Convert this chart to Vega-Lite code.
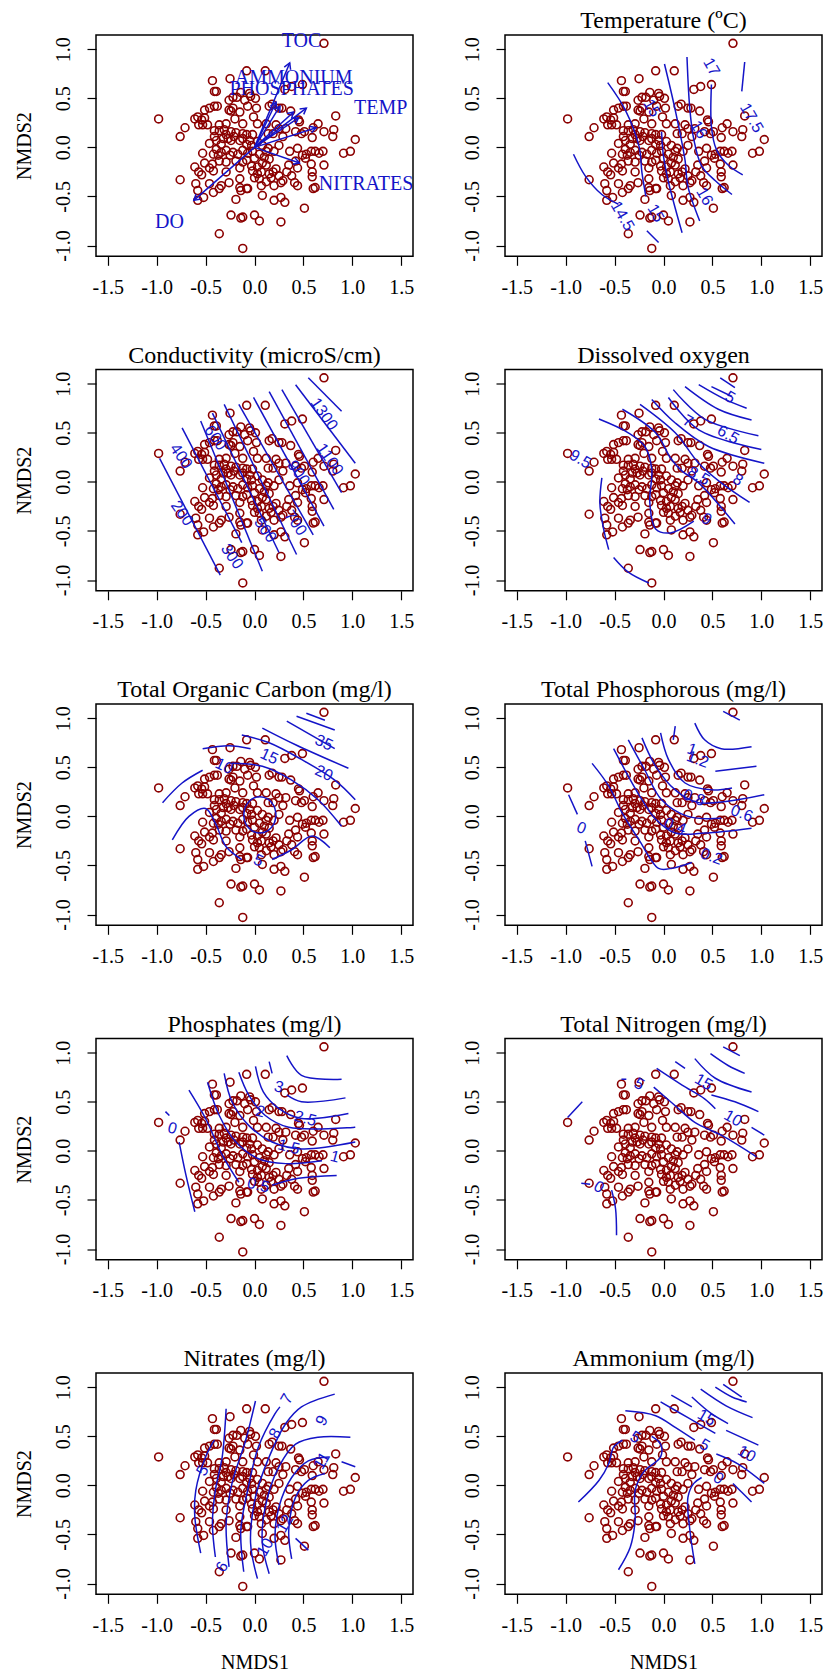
{
"$schema":"https://vega.github.io/schema/vega-lite/v6.json",
"background":"white",
"padding":{"left":13,"top":8,"right":5,"bottom":2},
"config":{
 "font":"Liberation Serif",
 "view":{"stroke":"black","strokeWidth":1.5},
 "axis":{"grid":false,"domain":false,"tickColor":"black","tickSize":9,"tickWidth":1.2,"labelFontSize":20,"labelColor":"black","labelFont":"Liberation Serif","titleFont":"Liberation Serif","titleFontSize":20,"titleFontWeight":"normal","titleColor":"black","labelOverlap":false,"labelFlush":false},
 "axisX":{"labelPadding":12,"titlePadding":17},
 "axisY":{"labelAngle":-90,"labelAlign":"center","labelBaseline":"bottom","labelPadding":14,"titlePadding":19},
 "title":{"fontSize":24,"font":"Liberation Serif","fontWeight":"normal","color":"black","baseline":"alphabetic","offset":2,"frame":"group","anchor":"middle"}
},
"datasets":{
"pts":[{"x":0.71,"y":1.06},{"x":-0.08,"y":0.78},{"x":0.11,"y":0.78},{"x":-0.43,"y":0.68},{"x":-0.25,"y":0.70},{"x":-0.41,"y":0.57},{"x":-0.39,"y":0.57},{"x":0.31,"y":0.59},{"x":0.38,"y":0.62},{"x":0.49,"y":0.64},
{"x":-0.14,"y":0.56},{"x":-0.05,"y":0.55},{"x":-0.22,"y":0.51},{"x":-0.26,"y":0.48},{"x":-0.18,"y":0.51},{"x":0.01,"y":0.50},{"x":-0.10,"y":0.48},{"x":-0.04,"y":0.52},{"x":-0.51,"y":0.38},{"x":-0.46,"y":0.40},
{"x":-0.41,"y":0.42},{"x":-0.38,"y":0.42},{"x":-0.26,"y":0.38},{"x":-0.24,"y":0.37},{"x":-0.15,"y":0.36},{"x":-0.07,"y":0.42},{"x":0.15,"y":0.42},{"x":0.18,"y":0.44},{"x":0.25,"y":0.40},{"x":0.28,"y":0.40},
{"x":0.37,"y":0.37},{"x":0.45,"y":0.28},{"x":0.46,"y":0.26},{"x":0.48,"y":0.14},{"x":0.83,"y":0.32},{"x":0.81,"y":0.18},{"x":0.80,"y":0.11},{"x":1.03,"y":0.08},{"x":0.91,"y":-0.06},{"x":0.98,"y":-0.04},
{"x":0.65,"y":0.24},{"x":0.71,"y":0.16},{"x":0.60,"y":0.20},{"x":0.59,"y":0.10},{"x":0.51,"y":0.16},{"x":-0.01,"y":0.31},{"x":0.03,"y":0.24},{"x":0.12,"y":0.24},{"x":0.22,"y":0.23},{"x":0.25,"y":0.19},
{"x":0.29,"y":0.11},{"x":0.25,"y":0.02},{"x":-0.71,"y":0.20},{"x":-0.76,"y":0.11},{"x":-0.98,"y":0.29},{"x":-0.61,"y":0.29},{"x":-0.58,"y":0.31},{"x":-0.54,"y":0.28},{"x":-0.51,"y":0.30},{"x":-0.57,"y":0.23},
{"x":-0.53,"y":0.23},{"x":-0.48,"y":0.23},{"x":-0.41,"y":0.17},{"x":-0.36,"y":0.17},{"x":-0.31,"y":0.18},{"x":-0.24,"y":0.16},{"x":-0.19,"y":0.15},{"x":-0.12,"y":0.14},{"x":-0.08,"y":0.13},{"x":-0.02,"y":0.13},
{"x":-0.41,"y":0.11},{"x":-0.46,"y":0.04},{"x":-0.39,"y":0.07},{"x":-0.34,"y":0.03},{"x":-0.27,"y":0.09},{"x":-0.21,"y":0.11},{"x":-0.15,"y":0.07},{"x":-0.08,"y":0.03},{"x":-0.03,"y":0.02},{"x":0.03,"y":0.06},
{"x":0.08,"y":0.02},{"x":0.14,"y":-0.01},{"x":-0.39,"y":-0.02},{"x":-0.34,"y":-0.05},{"x":-0.29,"y":-0.03},{"x":-0.22,"y":-0.05},{"x":-0.17,"y":-0.07},{"x":-0.12,"y":-0.03},{"x":-0.07,"y":-0.06},{"x":-0.02,"y":-0.04},
{"x":0.05,"y":-0.07},{"x":0.10,"y":-0.10},{"x":0.15,"y":-0.12},{"x":-0.42,"y":-0.07},{"x":-0.36,"y":-0.14},{"x":-0.29,"y":-0.15},{"x":-0.19,"y":-0.14},{"x":-0.12,"y":-0.15},{"x":-0.03,"y":-0.19},{"x":0.03,"y":-0.20},
{"x":0.08,"y":-0.16},{"x":-0.53,"y":-0.06},{"x":-0.61,"y":-0.20},{"x":-0.51,"y":-0.16},{"x":-0.43,"y":-0.17},{"x":-0.57,"y":-0.25},{"x":-0.42,"y":-0.24},{"x":-0.60,"y":-0.37},{"x":-0.58,"y":-0.44},{"x":-0.58,"y":-0.54},
{"x":-0.52,"y":-0.51},{"x":-0.46,"y":-0.37},{"x":-0.42,"y":-0.46},{"x":-0.36,"y":-0.42},{"x":-0.34,"y":-0.39},{"x":-0.26,"y":-0.36},{"x":-0.19,"y":-0.53},{"x":-0.15,"y":-0.41},{"x":-0.14,"y":-0.44},{"x":-0.08,"y":-0.42},
{"x":-0.07,"y":-0.42},{"x":-0.02,"y":-0.24},{"x":0.03,"y":-0.27},{"x":0.07,"y":-0.25},{"x":0.00,"y":-0.31},{"x":0.05,"y":-0.32},{"x":0.07,"y":-0.39},{"x":0.08,"y":-0.49},{"x":0.15,"y":-0.27},{"x":0.19,"y":-0.25},
{"x":0.17,"y":-0.31},{"x":0.22,"y":-0.22},{"x":0.25,"y":-0.29},{"x":0.29,"y":-0.34},{"x":0.27,"y":-0.36},{"x":0.20,"y":-0.39},{"x":0.20,"y":-0.54},{"x":0.27,"y":-0.51},{"x":0.31,"y":-0.56},{"x":0.27,"y":-0.76},
{"x":0.33,"y":-0.25},{"x":0.38,"y":-0.29},{"x":0.41,"y":-0.36},{"x":0.44,"y":-0.39},{"x":0.35,"y":-0.18},{"x":0.42,"y":-0.14},{"x":0.44,"y":-0.21},{"x":0.49,"y":-0.08},{"x":0.52,"y":-0.11},{"x":0.53,"y":-0.07},
{"x":0.58,"y":-0.04},{"x":0.62,"y":-0.04},{"x":0.66,"y":-0.06},{"x":0.70,"y":-0.04},{"x":0.58,"y":-0.17},{"x":0.59,"y":-0.25},{"x":0.59,"y":-0.30},{"x":0.60,"y":-0.42},{"x":0.62,"y":-0.41},{"x":0.71,"y":-0.18},
{"x":0.51,"y":-0.62},{"x":-0.24,"y":-0.69},{"x":-0.14,"y":-0.72},{"x":-0.12,"y":-0.71},{"x":0.00,"y":-0.69},{"x":0.05,"y":-0.75},{"x":-0.36,"y":-0.88},{"x":-0.12,"y":-1.03},{"x":-0.76,"y":-0.33},{"x":-0.29,"y":0.13},
{"x":-0.24,"y":0.07},{"x":-0.12,"y":0.09},{"x":-0.05,"y":0.07},{"x":-0.32,"y":0.09},{"x":0.00,"y":-0.11},{"x":-0.08,"y":-0.13},{"x":0.12,"y":-0.04},{"x":-0.25,"y":-0.08},{"x":-0.37,"y":-0.08},{"x":-0.15,"y":-0.21},
{"x":-0.15,"y":-0.32},{"x":0.12,"y":-0.18},{"x":0.20,"y":-0.04},{"x":0.36,"y":-0.04},{"x":0.44,"y":-0.01},{"x":0.42,"y":0.16},{"x":0.14,"y":0.14},{"x":0.19,"y":0.14},{"x":0.32,"y":0.19},{"x":-0.22,"y":0.40},
{"x":-0.20,"y":0.29},{"x":-0.12,"y":0.24},{"x":-0.29,"y":0.24},{"x":-0.36,"y":0.23},{"x":0.02,"y":0.40},{"x":-0.46,"y":-0.21},{"x":-0.29,"y":-0.25},{"x":-0.54,"y":-0.28},{"x":0.12,"y":-0.35}],
"ln":[
{"p":1,"g":"1a","o":0,"x":0,"y":0},{"p":1,"g":"1a","o":1,"x":-0.62,"y":-0.54},
{"p":1,"g":"1A","o":0,"x":-0.597,"y":-0.474},{"p":1,"g":"1A","o":1,"x":-0.62,"y":-0.54},{"p":1,"g":"1A","o":2,"x":-0.551,"y":-0.527},
{"p":1,"g":"1b","o":0,"x":0,"y":0},{"p":1,"g":"1b","o":1,"x":0.46,"y":-0.16},
{"p":1,"g":"1B","o":0,"x":0.391,"y":-0.173},{"p":1,"g":"1B","o":1,"x":0.46,"y":-0.16},{"p":1,"g":"1B","o":2,"x":0.414,"y":-0.107},
{"p":1,"g":"1c","o":0,"x":0,"y":0},{"p":1,"g":"1c","o":1,"x":0.63,"y":0.20},
{"p":1,"g":"1C","o":0,"x":0.583,"y":0.148},{"p":1,"g":"1C","o":1,"x":0.63,"y":0.20},{"p":1,"g":"1C","o":2,"x":0.562,"y":0.215},
{"p":1,"g":"1d","o":0,"x":0,"y":0},{"p":1,"g":"1d","o":1,"x":0.36,"y":0.86},
{"p":1,"g":"1D","o":0,"x":0.369,"y":0.791},{"p":1,"g":"1D","o":1,"x":0.36,"y":0.86},{"p":1,"g":"1D","o":2,"x":0.304,"y":0.818},
{"p":1,"g":"1e","o":0,"x":0,"y":0},{"p":1,"g":"1e","o":1,"x":0.53,"y":0.40},
{"p":1,"g":"1E","o":0,"x":0.503,"y":0.336},{"p":1,"g":"1E","o":1,"x":0.53,"y":0.40},{"p":1,"g":"1E","o":2,"x":0.461,"y":0.391},
{"p":1,"g":"1f","o":0,"x":0,"y":0},{"p":1,"g":"1f","o":1,"x":0.26,"y":0.42},
{"p":1,"g":"1F","o":0,"x":0.258,"y":0.350},{"p":1,"g":"1F","o":1,"x":0.26,"y":0.42},{"p":1,"g":"1F","o":2,"x":0.198,"y":0.387},
{"p":1,"g":"1g","o":0,"x":0,"y":0},{"p":1,"g":"1g","o":1,"x":0.22,"y":0.46},
{"p":1,"g":"1G","o":0,"x":0.225,"y":0.390},{"p":1,"g":"1G","o":1,"x":0.22,"y":0.46},{"p":1,"g":"1G","o":2,"x":0.162,"y":0.420},
{"p":1,"g":"1h","o":0,"x":0,"y":0},{"p":1,"g":"1h","o":1,"x":0.45,"y":0.30},
{"p":1,"g":"1H","o":0,"x":0.419,"y":0.237},{"p":1,"g":"1H","o":1,"x":0.45,"y":0.30},{"p":1,"g":"1H","o":2,"x":0.380,"y":0.296},
{"p":1,"g":"1i","o":0,"x":0,"y":0},{"p":1,"g":"1i","o":1,"x":0.40,"y":0.36},
{"p":1,"g":"1I","o":0,"x":0.378,"y":0.293},{"p":1,"g":"1I","o":1,"x":0.40,"y":0.36},{"p":1,"g":"1I","o":2,"x":0.332,"y":0.346},

{"p":2,"g":"2a","o":0,"x":-0.92,"y":-0.07},{"p":2,"g":"2a","o":1,"x":-0.80,"y":-0.29},{"p":2,"g":"2a","o":2,"x":-0.63,"y":-0.48},{"p":2,"g":"2a","o":3,"x":-0.46,"y":-0.58},
{"p":2,"g":"2b","o":0,"x":-0.57,"y":0.66},{"p":2,"g":"2b","o":1,"x":-0.39,"y":0.38},{"p":2,"g":"2b","o":2,"x":-0.25,"y":0.01},{"p":2,"g":"2b","o":3,"x":-0.22,"y":-0.26},{"p":2,"g":"2b","o":4,"x":-0.18,"y":-0.50},
{"p":2,"g":"2c","o":0,"x":-0.02,"y":0.16},{"p":2,"g":"2c","o":1,"x":0.0,"y":-0.09},{"p":2,"g":"2c","o":2,"x":0.05,"y":-0.35},{"p":2,"g":"2c","o":3,"x":0.12,"y":-0.62},{"p":2,"g":"2c","o":4,"x":0.19,"y":-0.87},
{"p":2,"g":"2d","o":0,"x":-0.17,"y":-0.85},{"p":2,"g":"2d","o":1,"x":-0.05,"y":-0.97},
{"p":2,"g":"2e","o":0,"x":0.01,"y":0.85},{"p":2,"g":"2e","o":1,"x":0.12,"y":0.38},{"p":2,"g":"2e","o":2,"x":0.22,"y":-0.13},{"p":2,"g":"2e","o":3,"x":0.25,"y":-0.40},{"p":2,"g":"2e","o":4,"x":0.37,"y":-0.75},
{"p":2,"g":"2f","o":0,"x":0.24,"y":0.92},{"p":2,"g":"2f","o":1,"x":0.27,"y":0.38},{"p":2,"g":"2f","o":2,"x":0.31,"y":0.08},{"p":2,"g":"2f","o":3,"x":0.39,"y":-0.19},{"p":2,"g":"2f","o":4,"x":0.53,"y":-0.34},{"p":2,"g":"2f","o":5,"x":0.70,"y":-0.48},
{"p":2,"g":"2g","o":0,"x":0.49,"y":0.64},{"p":2,"g":"2g","o":1,"x":0.49,"y":0.21},{"p":2,"g":"2g","o":2,"x":0.54,"y":-0.02},{"p":2,"g":"2g","o":3,"x":0.66,"y":-0.18},{"p":2,"g":"2g","o":4,"x":0.81,"y":-0.28},
{"p":2,"g":"2h","o":0,"x":0.83,"y":0.87},{"p":2,"g":"2h","o":1,"x":0.80,"y":0.57},

{"p":3,"g":"3a","o":0,"x":-0.97,"y":0.24},{"p":3,"g":"3a","o":1,"x":-0.35,"y":-0.95},
{"p":3,"g":"3b","o":0,"x":-0.74,"y":0.55},{"p":3,"g":"3b","o":1,"x":-0.13,"y":-0.62},
{"p":3,"g":"3c","o":0,"x":-0.55,"y":0.62},{"p":3,"g":"3c","o":1,"x":0.08,"y":-0.91},
{"p":3,"g":"3d","o":0,"x":-0.43,"y":0.70},{"p":3,"g":"3d","o":1,"x":0.25,"y":-0.72},
{"p":3,"g":"3e","o":0,"x":-0.31,"y":0.79},{"p":3,"g":"3e","o":1,"x":0.43,"y":-0.74},
{"p":3,"g":"3f","o":0,"x":-0.16,"y":0.79},{"p":3,"g":"3f","o":1,"x":0.60,"y":-0.54},
{"p":3,"g":"3g","o":0,"x":-0.01,"y":0.86},{"p":3,"g":"3g","o":1,"x":0.71,"y":-0.45},
{"p":3,"g":"3h","o":0,"x":0.15,"y":0.92},{"p":3,"g":"3h","o":1,"x":0.81,"y":-0.28},
{"p":3,"g":"3i","o":0,"x":0.28,"y":0.94},{"p":3,"g":"3i","o":1,"x":0.89,"y":-0.11},
{"p":3,"g":"3j","o":0,"x":0.42,"y":0.99},{"p":3,"g":"3j","o":1,"x":1.03,"y":0.19},
{"p":3,"g":"3k","o":0,"x":0.55,"y":1.06},{"p":3,"g":"3k","o":1,"x":0.89,"y":0.72},

{"p":4,"g":"4a","o":0,"x":-0.63,"y":0.04},{"p":4,"g":"4a","o":1,"x":-0.65,"y":-0.22},{"p":4,"g":"4a","o":2,"x":-0.61,"y":-0.49},{"p":4,"g":"4a","o":3,"x":-0.56,"y":-0.69},
{"p":4,"g":"4b","o":0,"x":-0.51,"y":-0.77},{"p":4,"g":"4b","o":1,"x":-0.36,"y":-0.92},{"p":4,"g":"4b","o":2,"x":-0.15,"y":-1.03},
{"p":4,"g":"4c","o":0,"x":-0.66,"y":0.64},{"p":4,"g":"4c","o":1,"x":-0.36,"y":0.50},{"p":4,"g":"4c","o":2,"x":-0.19,"y":0.36},{"p":4,"g":"4c","o":3,"x":-0.12,"y":0.13},{"p":4,"g":"4c","o":4,"x":-0.14,"y":-0.21},{"p":4,"g":"4c","o":5,"x":-0.08,"y":-0.48},{"p":4,"g":"4c","o":6,"x":0.07,"y":-0.52},{"p":4,"g":"4c","o":7,"x":0.31,"y":-0.40},
{"p":4,"g":"4d","o":0,"x":-0.42,"y":0.74},{"p":4,"g":"4d","o":1,"x":-0.08,"y":0.50},{"p":4,"g":"4d","o":2,"x":0.08,"y":0.23},{"p":4,"g":"4d","o":3,"x":0.19,"y":0.11},{"p":4,"g":"4d","o":4,"x":0.36,"y":-0.01},{"p":4,"g":"4d","o":5,"x":0.73,"y":-0.43},
{"p":4,"g":"4e","o":0,"x":-0.24,"y":0.79},{"p":4,"g":"4e","o":1,"x":0.12,"y":0.50},{"p":4,"g":"4e","o":2,"x":0.36,"y":0.19},{"p":4,"g":"4e","o":3,"x":0.59,"y":-0.01},{"p":4,"g":"4e","o":4,"x":0.88,"y":-0.21},
{"p":4,"g":"4f","o":0,"x":-0.12,"y":0.84},{"p":4,"g":"4f","o":1,"x":0.12,"y":0.60},{"p":4,"g":"4f","o":2,"x":0.46,"y":0.36},{"p":4,"g":"4f","o":3,"x":1.03,"y":0.19},
{"p":4,"g":"4g","o":0,"x":0.05,"y":0.86},{"p":4,"g":"4g","o":1,"x":0.36,"y":0.53},{"p":4,"g":"4g","o":2,"x":1.00,"y":0.33},
{"p":4,"g":"4h","o":0,"x":0.10,"y":0.94},{"p":4,"g":"4h","o":1,"x":0.42,"y":0.64},{"p":4,"g":"4h","o":2,"x":0.97,"y":0.47},
{"p":4,"g":"4i","o":0,"x":0.22,"y":0.97},{"p":4,"g":"4i","o":1,"x":0.56,"y":0.74},{"p":4,"g":"4i","o":2,"x":0.90,"y":0.63},
{"p":4,"g":"4j","o":0,"x":0.36,"y":0.99},{"p":4,"g":"4j","o":1,"x":0.63,"y":0.84},{"p":4,"g":"4j","o":2,"x":0.85,"y":0.75},
{"p":4,"g":"4k","o":0,"x":0.49,"y":0.97},{"p":4,"g":"4k","o":1,"x":0.70,"y":0.87},
{"p":4,"g":"4l","o":0,"x":0.58,"y":1.06},{"p":4,"g":"4l","o":1,"x":0.73,"y":0.96},

{"p":5,"g":"5a","o":0,"x":-0.94,"y":0.14},{"p":5,"g":"5a","o":1,"x":-0.74,"y":0.34},{"p":5,"g":"5a","o":2,"x":-0.53,"y":0.47},
{"p":5,"g":"5b","o":0,"x":-0.53,"y":0.69},{"p":5,"g":"5b","o":1,"x":-0.26,"y":0.72},{"p":5,"g":"5b","o":2,"x":-0.04,"y":0.69},
{"p":5,"g":"5c","o":0,"x":-0.84,"y":-0.24},{"p":5,"g":"5c","o":1,"x":-0.67,"y":0.0},{"p":5,"g":"5c","o":2,"x":-0.50,"y":0.08},{"p":5,"g":"5c","o":3,"x":-0.40,"y":-0.07},{"p":5,"g":"5c","o":4,"x":-0.29,"y":-0.31},{"p":5,"g":"5c","o":5,"x":-0.13,"y":-0.44},
{"p":5,"g":"5d","o":0,"x":0.18,"y":-0.44},{"p":5,"g":"5d","o":1,"x":0.38,"y":-0.34},{"p":5,"g":"5d","o":2,"x":0.59,"y":-0.20},{"p":5,"g":"5d","o":3,"x":0.77,"y":-0.32},
{"p":5,"g":"5e","o":0,"x":0.22,"y":0.015},{"p":5,"g":"5e","o":1,"x":0.198,"y":0.108},{"p":5,"g":"5e","o":2,"x":0.138,"y":0.175},{"p":5,"g":"5e","o":3,"x":0.055,"y":0.20},{"p":5,"g":"5e","o":4,"x":-0.028,"y":0.175},{"p":5,"g":"5e","o":5,"x":-0.088,"y":0.108},{"p":5,"g":"5e","o":6,"x":-0.11,"y":0.015},{"p":5,"g":"5e","o":7,"x":-0.088,"y":-0.078},{"p":5,"g":"5e","o":8,"x":-0.028,"y":-0.145},{"p":5,"g":"5e","o":9,"x":0.055,"y":-0.17},{"p":5,"g":"5e","o":10,"x":0.138,"y":-0.145},{"p":5,"g":"5e","o":11,"x":0.198,"y":-0.078},{"p":5,"g":"5e","o":12,"x":0.22,"y":0.015},
{"p":5,"g":"5f","o":0,"x":-0.23,"y":0.54},{"p":5,"g":"5f","o":1,"x":0.08,"y":0.51},{"p":5,"g":"5f","o":2,"x":0.38,"y":0.37},{"p":5,"g":"5f","o":3,"x":0.65,"y":0.17},{"p":5,"g":"5f","o":4,"x":0.89,"y":-0.10},
{"p":5,"g":"5g","o":0,"x":-0.13,"y":0.83},{"p":5,"g":"5g","o":1,"x":0.15,"y":0.75},{"p":5,"g":"5g","o":2,"x":0.48,"y":0.58},{"p":5,"g":"5g","o":3,"x":0.82,"y":0.37},{"p":5,"g":"5g","o":4,"x":1.03,"y":0.17},
{"p":5,"g":"5h","o":0,"x":0.08,"y":0.90},{"p":5,"g":"5h","o":1,"x":0.42,"y":0.73},{"p":5,"g":"5h","o":2,"x":0.96,"y":0.49},
{"p":5,"g":"5i","o":0,"x":0.33,"y":0.97},{"p":5,"g":"5i","o":1,"x":0.82,"y":0.69},
{"p":5,"g":"5j","o":0,"x":0.43,"y":1.02},{"p":5,"g":"5j","o":1,"x":0.82,"y":0.88},
{"p":5,"g":"5k","o":0,"x":0.53,"y":1.05},{"p":5,"g":"5k","o":1,"x":0.72,"y":0.98},

{"p":6,"g":"6a","o":0,"x":-0.97,"y":0.22},{"p":6,"g":"6a","o":1,"x":-0.88,"y":0.02},
{"p":6,"g":"6b","o":0,"x":-0.80,"y":-0.25},{"p":6,"g":"6b","o":1,"x":-0.73,"y":-0.51},
{"p":6,"g":"6c","o":0,"x":-0.73,"y":0.54},{"p":6,"g":"6c","o":1,"x":-0.56,"y":0.31},{"p":6,"g":"6c","o":2,"x":-0.42,"y":0.03},{"p":6,"g":"6c","o":3,"x":-0.25,"y":-0.24},{"p":6,"g":"6c","o":4,"x":-0.05,"y":-0.53},{"p":6,"g":"6c","o":5,"x":0.08,"y":-0.53},{"p":6,"g":"6c","o":6,"x":0.29,"y":-0.47},
{"p":6,"g":"6d","o":0,"x":-0.51,"y":0.69},{"p":6,"g":"6d","o":1,"x":-0.36,"y":0.41},{"p":6,"g":"6d","o":2,"x":-0.22,"y":0.17},{"p":6,"g":"6d","o":3,"x":-0.08,"y":-0.03},{"p":6,"g":"6d","o":4,"x":0.12,"y":-0.17},{"p":6,"g":"6d","o":5,"x":0.42,"y":-0.17},{"p":6,"g":"6d","o":6,"x":0.90,"y":-0.12},
{"p":6,"g":"6e","o":0,"x":-0.36,"y":0.78},{"p":6,"g":"6e","o":1,"x":-0.19,"y":0.47},{"p":6,"g":"6e","o":2,"x":-0.02,"y":0.17},{"p":6,"g":"6e","o":3,"x":0.25,"y":0.0},{"p":6,"g":"6e","o":4,"x":0.59,"y":-0.02},
{"p":6,"g":"6f","o":0,"x":-0.22,"y":0.80},{"p":6,"g":"6f","o":1,"x":-0.08,"y":0.51},{"p":6,"g":"6f","o":2,"x":0.12,"y":0.27},{"p":6,"g":"6f","o":3,"x":0.36,"y":0.14},{"p":6,"g":"6f","o":4,"x":1.03,"y":0.22},
{"p":6,"g":"6g","o":0,"x":-0.03,"y":0.85},{"p":6,"g":"6g","o":1,"x":0.05,"y":0.58},{"p":6,"g":"6g","o":2,"x":0.22,"y":0.34},{"p":6,"g":"6g","o":3,"x":0.49,"y":0.27},{"p":6,"g":"6g","o":4,"x":0.70,"y":0.29},
{"p":6,"g":"6h","o":0,"x":0.12,"y":0.92},{"p":6,"g":"6h","o":1,"x":0.10,"y":0.78},
{"p":6,"g":"6i","o":0,"x":0.32,"y":0.95},{"p":6,"g":"6i","o":1,"x":0.42,"y":0.78},{"p":6,"g":"6i","o":2,"x":0.59,"y":0.69},{"p":6,"g":"6i","o":3,"x":0.90,"y":0.71},
{"p":6,"g":"6j","o":0,"x":0.53,"y":0.46},{"p":6,"g":"6j","o":1,"x":0.95,"y":0.51},
{"p":6,"g":"6k","o":0,"x":0.61,"y":1.07},{"p":6,"g":"6k","o":1,"x":0.78,"y":0.98},

{"p":7,"g":"7a","o":0,"x":-0.77,"y":0.09},{"p":7,"g":"7a","o":1,"x":-0.70,"y":-0.25},{"p":7,"g":"7a","o":2,"x":-0.61,"y":-0.62},
{"p":7,"g":"7z","o":0,"x":-0.91,"y":0.40},{"p":7,"g":"7z","o":1,"x":-0.87,"y":0.36},
{"p":7,"g":"7b","o":0,"x":-0.67,"y":0.62},{"p":7,"g":"7b","o":1,"x":-0.50,"y":0.33},{"p":7,"g":"7b","o":2,"x":-0.33,"y":-0.04},{"p":7,"g":"7b","o":3,"x":-0.16,"y":-0.32},
{"p":7,"g":"7c","o":0,"x":0.18,"y":-0.35},{"p":7,"g":"7c","o":1,"x":0.45,"y":-0.28},{"p":7,"g":"7c","o":2,"x":0.84,"y":-0.25},
{"p":7,"g":"7d","o":0,"x":-0.48,"y":0.70},{"p":7,"g":"7d","o":1,"x":-0.36,"y":0.36},{"p":7,"g":"7d","o":2,"x":-0.19,"y":0.09},{"p":7,"g":"7d","o":3,"x":0.04,"y":-0.08},{"p":7,"g":"7d","o":4,"x":0.32,"y":-0.13},{"p":7,"g":"7d","o":5,"x":0.69,"y":-0.10},
{"p":7,"g":"7e","o":0,"x":-0.31,"y":0.79},{"p":7,"g":"7e","o":1,"x":-0.23,"y":0.50},{"p":7,"g":"7e","o":2,"x":-0.06,"y":0.26},{"p":7,"g":"7e","o":3,"x":0.18,"y":0.09},{"p":7,"g":"7e","o":4,"x":0.48,"y":0.02},{"p":7,"g":"7e","o":5,"x":1.03,"y":0.09},
{"p":7,"g":"7f","o":0,"x":-0.16,"y":0.80},{"p":7,"g":"7f","o":1,"x":-0.06,"y":0.57},{"p":7,"g":"7f","o":2,"x":0.11,"y":0.36},{"p":7,"g":"7f","o":3,"x":0.35,"y":0.24},{"p":7,"g":"7f","o":4,"x":1.03,"y":0.24},
{"p":7,"g":"7g","o":0,"x":0.01,"y":0.86},{"p":7,"g":"7g","o":1,"x":0.09,"y":0.60},{"p":7,"g":"7g","o":2,"x":0.25,"y":0.43},{"p":7,"g":"7g","o":3,"x":0.48,"y":0.33},{"p":7,"g":"7g","o":4,"x":0.96,"y":0.38},
{"p":7,"g":"7h","o":0,"x":0.15,"y":0.91},{"p":7,"g":"7h","o":1,"x":0.18,"y":0.79},
{"p":7,"g":"7i","o":0,"x":0.33,"y":0.97},{"p":7,"g":"7i","o":1,"x":0.48,"y":0.77},{"p":7,"g":"7i","o":2,"x":0.89,"y":0.73},
{"p":7,"g":"7j","o":0,"x":0.33,"y":0.57},{"p":7,"g":"7j","o":1,"x":0.48,"y":0.50},{"p":7,"g":"7j","o":2,"x":0.93,"y":0.54},

{"p":8,"g":"8a","o":0,"x":-0.98,"y":0.34},{"p":8,"g":"8a","o":1,"x":-0.83,"y":0.50},
{"p":8,"g":"8b","o":0,"x":-0.84,"y":-0.33},{"p":8,"g":"8b","o":1,"x":-0.75,"y":-0.34},
{"p":8,"g":"8c","o":0,"x":-0.53,"y":-0.40},{"p":8,"g":"8c","o":1,"x":-0.49,"y":-0.59},{"p":8,"g":"8c","o":2,"x":-0.48,"y":-0.86},
{"p":8,"g":"8d","o":0,"x":-0.43,"y":0.73},{"p":8,"g":"8d","o":1,"x":-0.38,"y":0.73},
{"p":8,"g":"8e","o":0,"x":-0.07,"y":0.84},{"p":8,"g":"8e","o":1,"x":0.19,"y":0.67},{"p":8,"g":"8e","o":2,"x":0.42,"y":0.53},{"p":8,"g":"8e","o":3,"x":0.53,"y":0.43},
{"p":8,"g":"8f","o":0,"x":-0.10,"y":0.65},{"p":8,"g":"8f","o":1,"x":0.12,"y":0.46},{"p":8,"g":"8f","o":2,"x":0.32,"y":0.29},{"p":8,"g":"8f","o":3,"x":0.59,"y":0.16},{"p":8,"g":"8f","o":4,"x":0.95,"y":-0.06},
{"p":8,"g":"8g","o":0,"x":0.12,"y":0.91},{"p":8,"g":"8g","o":1,"x":0.22,"y":0.84},
{"p":8,"g":"8h","o":0,"x":0.32,"y":0.94},{"p":8,"g":"8h","o":1,"x":0.53,"y":0.74},{"p":8,"g":"8h","o":2,"x":0.90,"y":0.60},
{"p":8,"g":"8i","o":0,"x":0.48,"y":0.99},{"p":8,"g":"8i","o":1,"x":0.66,"y":0.87},{"p":8,"g":"8i","o":2,"x":0.83,"y":0.79},
{"p":8,"g":"8j","o":0,"x":0.61,"y":1.06},{"p":8,"g":"8j","o":1,"x":0.78,"y":0.97},
{"p":8,"g":"8k","o":0,"x":0.49,"y":0.57},{"p":8,"g":"8k","o":1,"x":0.73,"y":0.50},{"p":8,"g":"8k","o":2,"x":0.97,"y":0.40},
{"p":8,"g":"8l","o":0,"x":0.90,"y":0.24},{"p":8,"g":"8l","o":1,"x":1.03,"y":0.16},

{"p":9,"g":"9a","o":0,"x":-0.55,"y":-0.69},{"p":9,"g":"9a","o":1,"x":-0.61,"y":-0.32},{"p":9,"g":"9a","o":2,"x":-0.60,"y":-0.05},{"p":9,"g":"9a","o":3,"x":-0.50,"y":0.29},{"p":9,"g":"9a","o":4,"x":-0.41,"y":0.46},
{"p":9,"g":"9b","o":0,"x":-0.40,"y":-0.73},{"p":9,"g":"9b","o":1,"x":-0.43,"y":-0.39},{"p":9,"g":"9b","o":2,"x":-0.40,"y":-0.05},{"p":9,"g":"9b","o":3,"x":-0.33,"y":0.29},{"p":9,"g":"9b","o":4,"x":-0.29,"y":0.78},
{"p":9,"g":"9c","o":0,"x":-0.26,"y":-0.83},{"p":9,"g":"9c","o":1,"x":-0.29,"y":-0.39},{"p":9,"g":"9c","o":2,"x":-0.23,"y":0.02},{"p":9,"g":"9c","o":3,"x":-0.09,"y":0.46},{"p":9,"g":"9c","o":4,"x":0.01,"y":0.86},
{"p":9,"g":"9d","o":0,"x":-0.11,"y":-0.88},{"p":9,"g":"9d","o":1,"x":-0.14,"y":-0.46},{"p":9,"g":"9d","o":2,"x":-0.07,"y":-0.05},{"p":9,"g":"9d","o":3,"x":0.04,"y":0.39},{"p":9,"g":"9d","o":4,"x":0.21,"y":0.73},{"p":9,"g":"9d","o":5,"x":0.26,"y":0.80},
{"p":9,"g":"9e","o":0,"x":0.03,"y":-0.95},{"p":9,"g":"9e","o":1,"x":-0.04,"y":-0.59},{"p":9,"g":"9e","o":2,"x":0.01,"y":-0.12},{"p":9,"g":"9e","o":3,"x":0.15,"y":0.29},{"p":9,"g":"9e","o":4,"x":0.32,"y":0.63},{"p":9,"g":"9e","o":5,"x":0.48,"y":0.80},{"p":9,"g":"9e","o":6,"x":0.82,"y":0.93},
{"p":9,"g":"9f","o":0,"x":0.15,"y":-0.90},{"p":9,"g":"9f","o":1,"x":0.08,"y":-0.59},{"p":9,"g":"9f","o":2,"x":0.11,"y":-0.22},{"p":9,"g":"9f","o":3,"x":0.25,"y":0.19},{"p":9,"g":"9f","o":4,"x":0.42,"y":0.42},{"p":9,"g":"9f","o":5,"x":0.65,"y":0.49},{"p":9,"g":"9f","o":6,"x":0.98,"y":0.49},
{"p":9,"g":"9g","o":0,"x":0.25,"y":-0.81},{"p":9,"g":"9g","o":1,"x":0.21,"y":-0.53},{"p":9,"g":"9g","o":2,"x":0.25,"y":-0.22},{"p":9,"g":"9g","o":3,"x":0.38,"y":0.08},{"p":9,"g":"9g","o":4,"x":0.55,"y":0.25},{"p":9,"g":"9g","o":5,"x":0.76,"y":0.29},
{"p":9,"g":"9h","o":0,"x":0.38,"y":-0.75},{"p":9,"g":"9h","o":1,"x":0.35,"y":-0.46},{"p":9,"g":"9h","o":2,"x":0.42,"y":-0.12},{"p":9,"g":"9h","o":3,"x":0.55,"y":0.05},{"p":9,"g":"9h","o":4,"x":0.72,"y":0.12},
{"p":9,"g":"9i","o":0,"x":0.42,"y":-0.54},{"p":9,"g":"9i","o":1,"x":0.55,"y":-0.66},
{"p":9,"g":"9j","o":0,"x":0.89,"y":0.24},{"p":9,"g":"9j","o":1,"x":1.03,"y":0.19},

{"p":10,"g":"10a","o":0,"x":-0.87,"y":-0.17},{"p":10,"g":"10a","o":1,"x":-0.66,"y":0.05},{"p":10,"g":"10a","o":2,"x":-0.56,"y":0.22},{"p":10,"g":"10a","o":3,"x":-0.51,"y":0.39},{"p":10,"g":"10a","o":4,"x":-0.42,"y":0.46},
{"p":10,"g":"10b","o":0,"x":-0.46,"y":-0.86},{"p":10,"g":"10b","o":1,"x":-0.34,"y":-0.63},{"p":10,"g":"10b","o":2,"x":-0.29,"y":-0.36},{"p":10,"g":"10b","o":3,"x":-0.29,"y":-0.05},{"p":10,"g":"10b","o":4,"x":-0.20,"y":0.14},{"p":10,"g":"10b","o":5,"x":-0.03,"y":0.29},{"p":10,"g":"10b","o":6,"x":-0.03,"y":0.42},{"p":10,"g":"10b","o":7,"x":-0.12,"y":0.50},
{"p":10,"g":"10c","o":0,"x":0.32,"y":-0.80},{"p":10,"g":"10c","o":1,"x":0.27,"y":-0.46},{"p":10,"g":"10c","o":2,"x":0.25,"y":-0.12},{"p":10,"g":"10c","o":3,"x":0.31,"y":0.02},{"p":10,"g":"10c","o":4,"x":0.39,"y":0.08},
{"p":10,"g":"10d","o":0,"x":-0.39,"y":0.76},{"p":10,"g":"10d","o":1,"x":-0.08,"y":0.71},{"p":10,"g":"10d","o":2,"x":0.12,"y":0.59},{"p":10,"g":"10d","o":3,"x":0.32,"y":0.46},
{"p":10,"g":"10e","o":0,"x":-0.03,"y":0.85},{"p":10,"g":"10e","o":1,"x":0.25,"y":0.69},{"p":10,"g":"10e","o":2,"x":0.53,"y":0.53},
{"p":10,"g":"10f","o":0,"x":0.08,"y":0.92},{"p":10,"g":"10f","o":1,"x":0.29,"y":0.80},
{"p":10,"g":"10g","o":0,"x":0.29,"y":0.90},{"p":10,"g":"10g","o":1,"x":0.49,"y":0.73},{"p":10,"g":"10g","o":2,"x":0.66,"y":0.63},
{"p":10,"g":"10h","o":0,"x":0.38,"y":0.98},{"p":10,"g":"10h","o":1,"x":0.64,"y":0.81},{"p":10,"g":"10h","o":2,"x":0.91,"y":0.69},
{"p":10,"g":"10i","o":0,"x":0.53,"y":1.00},{"p":10,"g":"10i","o":1,"x":0.70,"y":0.90},{"p":10,"g":"10i","o":2,"x":0.85,"y":0.85},
{"p":10,"g":"10j","o":0,"x":0.61,"y":1.03},{"p":10,"g":"10j","o":1,"x":0.80,"y":0.90},
{"p":10,"g":"10k","o":0,"x":0.54,"y":0.32},{"p":10,"g":"10k","o":1,"x":0.76,"y":0.22},{"p":10,"g":"10k","o":2,"x":1.03,"y":0.02},
{"p":10,"g":"10l","o":0,"x":0.64,"y":0.56},{"p":10,"g":"10l","o":1,"x":0.97,"y":0.41},
{"p":10,"g":"10m","o":0,"x":0.71,"y":0.02},{"p":10,"g":"10m","o":1,"x":0.90,"y":-0.17}
],
"lb":[
{"p":1,"x":0.48,"y":1.08,"t":"TOC"},{"p":1,"x":0.40,"y":0.71,"t":"AMMONIUM"},{"p":1,"x":0.38,"y":0.59,"t":"PHOSPHATES"},{"p":1,"x":1.29,"y":0.40,"t":"TEMP"},{"p":1,"x":1.14,"y":-0.375,"t":"NITRATES"},{"p":1,"x":-0.87,"y":-0.76,"t":"DO"},
{"p":2,"x":-0.42,"y":-0.70,"t":"14.5"},{"p":2,"x":-0.08,"y":-0.67,"t":"15"},{"p":2,"x":-0.12,"y":0.40,"t":"15"},{"p":2,"x":0.36,"y":0.18,"t":"16"},{"p":2,"x":0.42,"y":-0.50,"t":"16"},{"p":2,"x":0.49,"y":0.82,"t":"17"},{"p":2,"x":0.90,"y":0.30,"t":"17.5"},
{"p":3,"x":-0.74,"y":-0.32,"t":"200"},{"p":3,"x":-0.75,"y":0.26,"t":"400"},{"p":3,"x":-0.40,"y":0.45,"t":"600"},{"p":3,"x":-0.23,"y":-0.76,"t":"300"},{"p":3,"x":0.11,"y":-0.49,"t":"500"},{"p":3,"x":0.42,"y":-0.42,"t":"700"},{"p":3,"x":0.45,"y":0.09,"t":"900"},{"p":3,"x":0.77,"y":0.23,"t":"1100"},{"p":3,"x":0.71,"y":0.69,"t":"1300"},
{"p":4,"x":-0.85,"y":0.23,"t":"9.5"},{"p":4,"x":0.25,"y":0.62,"t":"7"},{"p":4,"x":0.66,"y":0.48,"t":"6.5"},{"p":4,"x":0.68,"y":0.86,"t":"5"},{"p":4,"x":0.36,"y":0.06,"t":"8.5"},{"p":4,"x":0.76,"y":0.02,"t":"8"},{"p":4,"x":0.44,"y":-0.38,"t":"9"},
{"p":5,"x":-0.31,"y":0.51,"t":"10"},{"p":5,"x":0.04,"y":-0.45,"t":"5"},{"p":5,"x":0.15,"y":0.61,"t":"15"},{"p":5,"x":0.71,"y":0.44,"t":"20"},{"p":5,"x":0.71,"y":0.75,"t":"35"},
{"p":6,"x":-0.84,"y":-0.12,"t":"0"},{"p":6,"x":0.49,"y":-0.41,"t":"0.2"},{"p":6,"x":0.12,"y":-0.10,"t":"0.4"},{"p":6,"x":0.80,"y":0.03,"t":"0.6"},{"p":6,"x":0.31,"y":0.19,"t":"0.8"},{"p":6,"x":0.29,"y":0.68,"t":"1"},{"p":6,"x":0.35,"y":0.58,"t":"1.2"},
{"p":7,"x":-0.84,"y":0.23,"t":"0"},{"p":7,"x":0.04,"y":-0.35,"t":"0.5"},{"p":7,"x":0.82,"y":-0.06,"t":"1"},{"p":7,"x":0.35,"y":0.04,"t":"1.5"},{"p":7,"x":0.06,"y":0.40,"t":"2"},{"p":7,"x":0.52,"y":0.33,"t":"2.5"},{"p":7,"x":0.25,"y":0.65,"t":"3"},
{"p":8,"x":-0.66,"y":-0.37,"t":"0"},{"p":8,"x":-0.25,"y":0.68,"t":"5"},{"p":8,"x":0.41,"y":0.70,"t":"15"},{"p":8,"x":0.71,"y":0.33,"t":"10"},
{"p":9,"x":-0.53,"y":0.15,"t":"5"},{"p":9,"x":-0.33,"y":-0.83,"t":"6"},{"p":9,"x":0.33,"y":0.88,"t":"7"},{"p":9,"x":0.21,"y":0.53,"t":"8"},{"p":9,"x":0.69,"y":0.66,"t":"9"},{"p":9,"x":0.11,"y":-0.63,"t":"10"},{"p":9,"x":0.69,"y":0.25,"t":"11"},{"p":9,"x":0.31,"y":-0.39,"t":"12"},
{"p":10,"x":-0.29,"y":0.49,"t":"5"},{"p":10,"x":0.56,"y":0.07,"t":"0"},{"p":10,"x":0.42,"y":0.41,"t":"5"},{"p":10,"x":0.44,"y":0.69,"t":"15"},{"p":10,"x":0.85,"y":0.32,"t":"10"}
]
},
"columns":2,
"spacing":{"row":112.5,"column":92},
"bounds":"flush",
"concat":[
{"width":317,"height":221.3,
 "encoding":{"x":{"field":"x","type":"quantitative","scale":{"domain":[-1.62,1.62],"nice":false,"zero":false},"axis":{"values":[-1.5,-1,-0.5,0,0.5,1,1.5],"labelExpr":"datum.value < 0 ? '-' + format(-datum.value, '.1f') : format(datum.value, '.1f')","title":null}},
  "y":{"field":"y","type":"quantitative","scale":{"domain":[-1.11,1.145],"nice":false,"zero":false},"axis":{"values":[-1,-0.5,0,0.5,1],"labelExpr":"datum.value < 0 ? '-' + format(-datum.value, '.1f') : format(datum.value, '.1f')","title":"NMDS2"}}},
 "layer":[
  {"data":{"name":"pts"},"mark":{"type":"point","shape":"circle","filled":false,"color":"#8b0000","size":62,"strokeWidth":1.6,"opacity":1}},
  {"data":{"name":"ln"},"transform":[{"filter":"datum.p==1"}],"mark":{"type":"line","color":"#1414c8","strokeWidth":1.5},"encoding":{"detail":{"field":"g","type":"nominal"},"order":{"field":"o","type":"quantitative"}}},
  {"data":{"name":"lb"},"transform":[{"filter":"datum.p==1"}],"mark":{"type":"text","color":"#1414c8","font":"Liberation Serif","fontSize":20},"encoding":{"text":{"field":"t"}}}
 ]},
{"width":317,"height":221.3,"title":"Temperature (ºC)",
 "encoding":{"x":{"field":"x","type":"quantitative","scale":{"domain":[-1.62,1.62],"nice":false,"zero":false},"axis":{"values":[-1.5,-1,-0.5,0,0.5,1,1.5],"labelExpr":"datum.value < 0 ? '-' + format(-datum.value, '.1f') : format(datum.value, '.1f')","title":null}},
  "y":{"field":"y","type":"quantitative","scale":{"domain":[-1.11,1.145],"nice":false,"zero":false},"axis":{"values":[-1,-0.5,0,0.5,1],"labelExpr":"datum.value < 0 ? '-' + format(-datum.value, '.1f') : format(datum.value, '.1f')","title":null}}},
 "layer":[
  {"data":{"name":"pts"},"mark":{"type":"point","shape":"circle","filled":false,"color":"#8b0000","size":62,"strokeWidth":1.6,"opacity":1}},
  {"data":{"name":"ln"},"transform":[{"filter":"datum.p==2"}],"mark":{"type":"line","color":"#1414c8","strokeWidth":1.5,"interpolate":"catmull-rom"},"encoding":{"detail":{"field":"g","type":"nominal"},"order":{"field":"o","type":"quantitative"}}},
  {"data":{"name":"lb"},"transform":[{"filter":"datum.p==2"}],"mark":{"type":"text","color":"#1414c8","font":"Liberation Sans","fontSize":16,"angle":60},"encoding":{"text":{"field":"t"}}}
 ]},
{"width":317,"height":221.3,"title":"Conductivity (microS/cm)",
 "encoding":{"x":{"field":"x","type":"quantitative","scale":{"domain":[-1.62,1.62],"nice":false,"zero":false},"axis":{"values":[-1.5,-1,-0.5,0,0.5,1,1.5],"labelExpr":"datum.value < 0 ? '-' + format(-datum.value, '.1f') : format(datum.value, '.1f')","title":null}},
  "y":{"field":"y","type":"quantitative","scale":{"domain":[-1.11,1.145],"nice":false,"zero":false},"axis":{"values":[-1,-0.5,0,0.5,1],"labelExpr":"datum.value < 0 ? '-' + format(-datum.value, '.1f') : format(datum.value, '.1f')","title":"NMDS2"}}},
 "layer":[
  {"data":{"name":"pts"},"mark":{"type":"point","shape":"circle","filled":false,"color":"#8b0000","size":62,"strokeWidth":1.6,"opacity":1}},
  {"data":{"name":"ln"},"transform":[{"filter":"datum.p==3"}],"mark":{"type":"line","color":"#1414c8","strokeWidth":1.5,"interpolate":"catmull-rom"},"encoding":{"detail":{"field":"g","type":"nominal"},"order":{"field":"o","type":"quantitative"}}},
  {"data":{"name":"lb"},"transform":[{"filter":"datum.p==3"}],"mark":{"type":"text","color":"#1414c8","font":"Liberation Sans","fontSize":16,"angle":55},"encoding":{"text":{"field":"t"}}}
 ]},
{"width":317,"height":221.3,"title":"Dissolved oxygen",
 "encoding":{"x":{"field":"x","type":"quantitative","scale":{"domain":[-1.62,1.62],"nice":false,"zero":false},"axis":{"values":[-1.5,-1,-0.5,0,0.5,1,1.5],"labelExpr":"datum.value < 0 ? '-' + format(-datum.value, '.1f') : format(datum.value, '.1f')","title":null}},
  "y":{"field":"y","type":"quantitative","scale":{"domain":[-1.11,1.145],"nice":false,"zero":false},"axis":{"values":[-1,-0.5,0,0.5,1],"labelExpr":"datum.value < 0 ? '-' + format(-datum.value, '.1f') : format(datum.value, '.1f')","title":null}}},
 "layer":[
  {"data":{"name":"pts"},"mark":{"type":"point","shape":"circle","filled":false,"color":"#8b0000","size":62,"strokeWidth":1.6,"opacity":1}},
  {"data":{"name":"ln"},"transform":[{"filter":"datum.p==4"}],"mark":{"type":"line","color":"#1414c8","strokeWidth":1.5,"interpolate":"catmull-rom"},"encoding":{"detail":{"field":"g","type":"nominal"},"order":{"field":"o","type":"quantitative"}}},
  {"data":{"name":"lb"},"transform":[{"filter":"datum.p==4"}],"mark":{"type":"text","color":"#1414c8","font":"Liberation Sans","fontSize":16,"angle":30},"encoding":{"text":{"field":"t"}}}
 ]},
{"width":317,"height":221.3,"title":"Total Organic Carbon (mg/l)",
 "encoding":{"x":{"field":"x","type":"quantitative","scale":{"domain":[-1.62,1.62],"nice":false,"zero":false},"axis":{"values":[-1.5,-1,-0.5,0,0.5,1,1.5],"labelExpr":"datum.value < 0 ? '-' + format(-datum.value, '.1f') : format(datum.value, '.1f')","title":null}},
  "y":{"field":"y","type":"quantitative","scale":{"domain":[-1.11,1.145],"nice":false,"zero":false},"axis":{"values":[-1,-0.5,0,0.5,1],"labelExpr":"datum.value < 0 ? '-' + format(-datum.value, '.1f') : format(datum.value, '.1f')","title":"NMDS2"}}},
 "layer":[
  {"data":{"name":"pts"},"mark":{"type":"point","shape":"circle","filled":false,"color":"#8b0000","size":62,"strokeWidth":1.6,"opacity":1}},
  {"data":{"name":"ln"},"transform":[{"filter":"datum.p==5"}],"mark":{"type":"line","color":"#1414c8","strokeWidth":1.5,"interpolate":"catmull-rom"},"encoding":{"detail":{"field":"g","type":"nominal"},"order":{"field":"o","type":"quantitative"}}},
  {"data":{"name":"lb"},"transform":[{"filter":"datum.p==5"}],"mark":{"type":"text","color":"#1414c8","font":"Liberation Sans","fontSize":16,"angle":25},"encoding":{"text":{"field":"t"}}}
 ]},
{"width":317,"height":221.3,"title":"Total Phosphorous (mg/l)",
 "encoding":{"x":{"field":"x","type":"quantitative","scale":{"domain":[-1.62,1.62],"nice":false,"zero":false},"axis":{"values":[-1.5,-1,-0.5,0,0.5,1,1.5],"labelExpr":"datum.value < 0 ? '-' + format(-datum.value, '.1f') : format(datum.value, '.1f')","title":null}},
  "y":{"field":"y","type":"quantitative","scale":{"domain":[-1.11,1.145],"nice":false,"zero":false},"axis":{"values":[-1,-0.5,0,0.5,1],"labelExpr":"datum.value < 0 ? '-' + format(-datum.value, '.1f') : format(datum.value, '.1f')","title":null}}},
 "layer":[
  {"data":{"name":"pts"},"mark":{"type":"point","shape":"circle","filled":false,"color":"#8b0000","size":62,"strokeWidth":1.6,"opacity":1}},
  {"data":{"name":"ln"},"transform":[{"filter":"datum.p==6"}],"mark":{"type":"line","color":"#1414c8","strokeWidth":1.5,"interpolate":"catmull-rom"},"encoding":{"detail":{"field":"g","type":"nominal"},"order":{"field":"o","type":"quantitative"}}},
  {"data":{"name":"lb"},"transform":[{"filter":"datum.p==6"}],"mark":{"type":"text","color":"#1414c8","font":"Liberation Sans","fontSize":16,"angle":20},"encoding":{"text":{"field":"t"}}}
 ]},
{"width":317,"height":221.3,"title":"Phosphates (mg/l)",
 "encoding":{"x":{"field":"x","type":"quantitative","scale":{"domain":[-1.62,1.62],"nice":false,"zero":false},"axis":{"values":[-1.5,-1,-0.5,0,0.5,1,1.5],"labelExpr":"datum.value < 0 ? '-' + format(-datum.value, '.1f') : format(datum.value, '.1f')","title":null}},
  "y":{"field":"y","type":"quantitative","scale":{"domain":[-1.11,1.145],"nice":false,"zero":false},"axis":{"values":[-1,-0.5,0,0.5,1],"labelExpr":"datum.value < 0 ? '-' + format(-datum.value, '.1f') : format(datum.value, '.1f')","title":"NMDS2"}}},
 "layer":[
  {"data":{"name":"pts"},"mark":{"type":"point","shape":"circle","filled":false,"color":"#8b0000","size":62,"strokeWidth":1.6,"opacity":1}},
  {"data":{"name":"ln"},"transform":[{"filter":"datum.p==7"}],"mark":{"type":"line","color":"#1414c8","strokeWidth":1.5,"interpolate":"catmull-rom"},"encoding":{"detail":{"field":"g","type":"nominal"},"order":{"field":"o","type":"quantitative"}}},
  {"data":{"name":"lb"},"transform":[{"filter":"datum.p==7"}],"mark":{"type":"text","color":"#1414c8","font":"Liberation Sans","fontSize":16,"angle":15},"encoding":{"text":{"field":"t"}}}
 ]},
{"width":317,"height":221.3,"title":"Total Nitrogen (mg/l)",
 "encoding":{"x":{"field":"x","type":"quantitative","scale":{"domain":[-1.62,1.62],"nice":false,"zero":false},"axis":{"values":[-1.5,-1,-0.5,0,0.5,1,1.5],"labelExpr":"datum.value < 0 ? '-' + format(-datum.value, '.1f') : format(datum.value, '.1f')","title":null}},
  "y":{"field":"y","type":"quantitative","scale":{"domain":[-1.11,1.145],"nice":false,"zero":false},"axis":{"values":[-1,-0.5,0,0.5,1],"labelExpr":"datum.value < 0 ? '-' + format(-datum.value, '.1f') : format(datum.value, '.1f')","title":null}}},
 "layer":[
  {"data":{"name":"pts"},"mark":{"type":"point","shape":"circle","filled":false,"color":"#8b0000","size":62,"strokeWidth":1.6,"opacity":1}},
  {"data":{"name":"ln"},"transform":[{"filter":"datum.p==8"}],"mark":{"type":"line","color":"#1414c8","strokeWidth":1.5,"interpolate":"catmull-rom"},"encoding":{"detail":{"field":"g","type":"nominal"},"order":{"field":"o","type":"quantitative"}}},
  {"data":{"name":"lb"},"transform":[{"filter":"datum.p==8"}],"mark":{"type":"text","color":"#1414c8","font":"Liberation Sans","fontSize":16,"angle":30},"encoding":{"text":{"field":"t"}}}
 ]},
{"width":317,"height":221.3,"title":"Nitrates (mg/l)",
 "encoding":{"x":{"field":"x","type":"quantitative","scale":{"domain":[-1.62,1.62],"nice":false,"zero":false},"axis":{"values":[-1.5,-1,-0.5,0,0.5,1,1.5],"labelExpr":"datum.value < 0 ? '-' + format(-datum.value, '.1f') : format(datum.value, '.1f')","title":"NMDS1"}},
  "y":{"field":"y","type":"quantitative","scale":{"domain":[-1.11,1.145],"nice":false,"zero":false},"axis":{"values":[-1,-0.5,0,0.5,1],"labelExpr":"datum.value < 0 ? '-' + format(-datum.value, '.1f') : format(datum.value, '.1f')","title":"NMDS2"}}},
 "layer":[
  {"data":{"name":"pts"},"mark":{"type":"point","shape":"circle","filled":false,"color":"#8b0000","size":62,"strokeWidth":1.6,"opacity":1}},
  {"data":{"name":"ln"},"transform":[{"filter":"datum.p==9"}],"mark":{"type":"line","color":"#1414c8","strokeWidth":1.5,"interpolate":"catmull-rom"},"encoding":{"detail":{"field":"g","type":"nominal"},"order":{"field":"o","type":"quantitative"}}},
  {"data":{"name":"lb"},"transform":[{"filter":"datum.p==9"}],"mark":{"type":"text","color":"#1414c8","font":"Liberation Sans","fontSize":16,"angle":-60},"encoding":{"text":{"field":"t"}}}
 ]},
{"width":317,"height":221.3,"title":"Ammonium (mg/l)",
 "encoding":{"x":{"field":"x","type":"quantitative","scale":{"domain":[-1.62,1.62],"nice":false,"zero":false},"axis":{"values":[-1.5,-1,-0.5,0,0.5,1,1.5],"labelExpr":"datum.value < 0 ? '-' + format(-datum.value, '.1f') : format(datum.value, '.1f')","title":"NMDS1"}},
  "y":{"field":"y","type":"quantitative","scale":{"domain":[-1.11,1.145],"nice":false,"zero":false},"axis":{"values":[-1,-0.5,0,0.5,1],"labelExpr":"datum.value < 0 ? '-' + format(-datum.value, '.1f') : format(datum.value, '.1f')","title":null}}},
 "layer":[
  {"data":{"name":"pts"},"mark":{"type":"point","shape":"circle","filled":false,"color":"#8b0000","size":62,"strokeWidth":1.6,"opacity":1}},
  {"data":{"name":"ln"},"transform":[{"filter":"datum.p==10"}],"mark":{"type":"line","color":"#1414c8","strokeWidth":1.5,"interpolate":"catmull-rom"},"encoding":{"detail":{"field":"g","type":"nominal"},"order":{"field":"o","type":"quantitative"}}},
  {"data":{"name":"lb"},"transform":[{"filter":"datum.p==10"}],"mark":{"type":"text","color":"#1414c8","font":"Liberation Sans","fontSize":16,"angle":30},"encoding":{"text":{"field":"t"}}}
 ]}
]
}
